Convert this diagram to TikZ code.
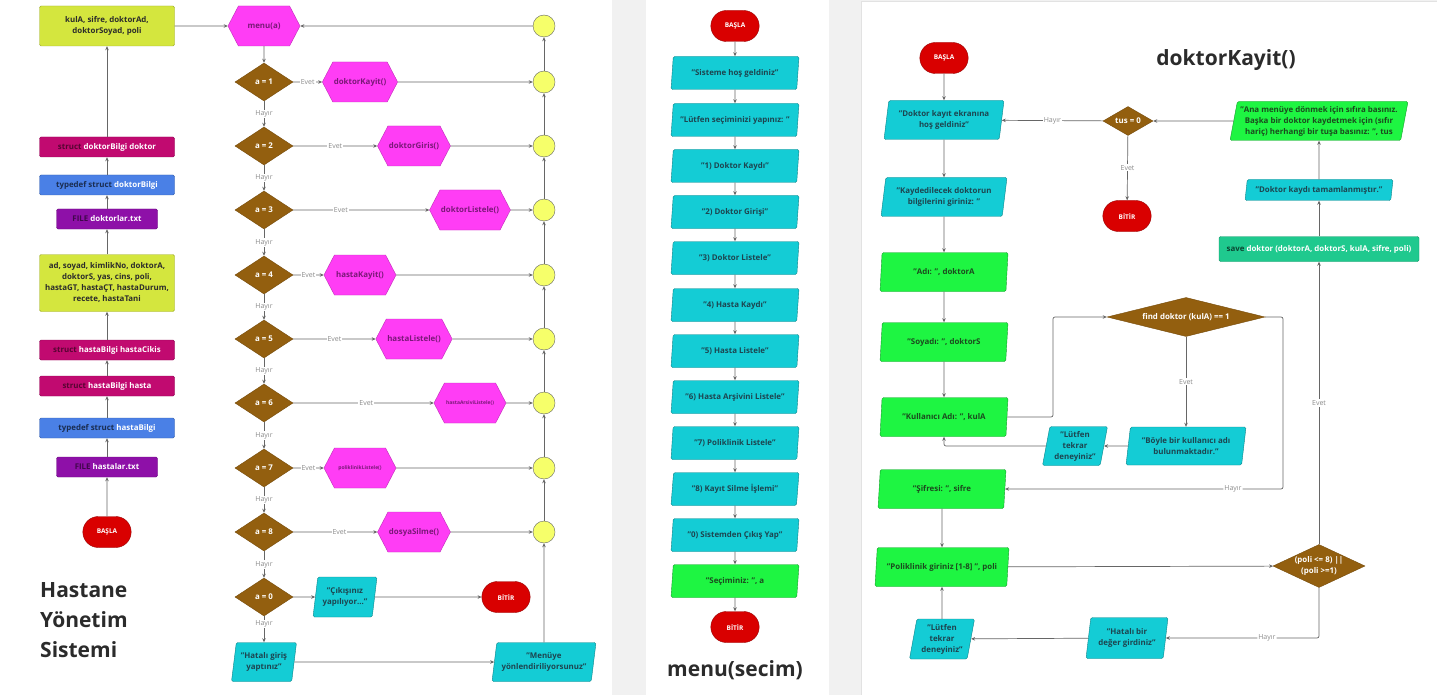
\documentclass[tikz,border=0pt]{standalone}
\usepackage{fontspec}
\setmainfont{Open Sans}
\usetikzlibrary{shapes.geometric,shapes.misc,shapes.symbols,arrows.meta}
\definecolor{panelgray}{HTML}{F1F1F1}
\definecolor{panelline}{HTML}{E2E2E2}
\definecolor{linegray}{HTML}{666666}
\definecolor{lblgray}{HTML}{8C8C8C}
\definecolor{headgray}{HTML}{2B2B2B}
\definecolor{limebox}{HTML}{D4E63E}
\definecolor{structmag}{HTML}{C10A70}
\definecolor{typeblue}{HTML}{4A80E6}
\definecolor{filepurple}{HTML}{8E10A8}
\definecolor{termred}{HTML}{D90000}
\definecolor{funcpink}{HTML}{FF3DF5}
\definecolor{functext}{HTML}{7A1878}
\definecolor{decbrown}{HTML}{935F0F}
\definecolor{jointyellow}{HTML}{F6FF6A}
\definecolor{iocyan}{HTML}{14CCD5}
\definecolor{iotext}{HTML}{1D4550}
\definecolor{iogreen}{HTML}{1EF542}
\definecolor{greentext}{HTML}{1B4A1E}
\definecolor{savegreen}{HTML}{1FC98E}
\newcommand\nodefont{\bfseries\fontsize{7.9}{11}\selectfont}
\newcommand\tinyfont{\bfseries\fontsize{5}{6}\selectfont}

\begin{document}
\begin{tikzpicture}[x=1pt,y=-1pt,
    >={Stealth[length=4pt,width=3.5pt]},
    line/.style={draw=linegray,line width=0.7pt},
    lbl/.style={fill=white,text=lblgray,font=\fontsize{7}{8}\selectfont,inner sep=1pt},
    databox/.style={rectangle,rounded corners=1.5pt,draw=#1!75!black,fill=#1,minimum width=135,minimum height=20,inner sep=1pt,align=center,font=\nodefont},
    io/.style={trapezium,trapezium left angle=77,trapezium right angle=103,trapezium stretches body,rounded corners=1.5pt,fill=iocyan,draw=iocyan!65!black,text=iotext,align=center,font=\nodefont,inner sep=1pt},
    ioin/.style={io,fill=iogreen,draw=iogreen!65!black,text=greentext},
    dec/.style={diamond,aspect=1.5,fill=decbrown,draw=decbrown!80!black,text=white,align=center,font=\nodefont,inner sep=0pt,minimum width=58,minimum height=38},
    func/.style={signal,signal to=east and west,signal pointer angle=125,fill=funcpink,draw=funcpink!75!black,text=functext,font=\nodefont,minimum width=72,minimum height=40,inner sep=1pt},
    term/.style={rounded rectangle,fill=termred,draw=termred!70!black,text=white,font=\bfseries\fontsize{6.5}{8}\selectfont,minimum width=55,minimum height=31},
    joint/.style={circle,fill=jointyellow,draw=linegray,minimum size=22,inner sep=0pt},
    heading/.style={font=\bfseries\fontsize{21}{30}\selectfont,text=headgray,inner sep=0pt}]
  \useasboundingbox (0,0) rectangle (1437,695);
  \fill [panelgray] (0,0) rectangle (1437,695);
  \fill [white] (0,0) rectangle (612,695);
  \fill [white] (646,0) rectangle (829,695);
  \filldraw [fill=white,draw=panelline] (861,1) rectangle (1437,695);

  % structs and files
  \node (vars) at (107,26) [databox=limebox,text=headgray,minimum height=40] {kulA, sifre, doktorAd,\\ doktorSoyad, poli};
  \node (drec) at (107,147) [databox=structmag,text=structmag!45!black] {struct \textcolor{white}{doktorBilgi doktor}};
  \node (dtype) at (107,185) [databox=typeblue,text=typeblue!35!black] {typedef struct \textcolor{white}{doktorBilgi}};
  \node (dfile) at (107,219) [databox=filepurple,text=filepurple!45!black,minimum width=101] {FILE \textcolor{white}{doktorlar.txt}};
  \node (hfields) at (107,283) [databox=limebox,text=headgray,minimum height=57] {ad, soyad, kimlikNo, doktorA,\\ doktorS, yas, cins, poli,\\ hastaGT, hastaÇT, hastaDurum,\\ recete, hastaTani};
  \node (hcikis) at (107,350) [databox=structmag,text=structmag!45!black] {struct \textcolor{white}{hastaBilgi hastaCikis}};
  \node (hrec) at (107,386) [databox=structmag,text=structmag!45!black] {struct \textcolor{white}{hastaBilgi hasta}};
  \node (htype) at (107,428) [databox=typeblue,text=typeblue!35!black] {typedef struct \textcolor{white}{hastaBilgi}};
  \node (hfile) at (107,467) [databox=filepurple,text=filepurple!45!black,minimum width=101] {FILE \textcolor{white}{hastalar.txt}};
  \node (start) at (107,532) [term] {BAŞLA};
  \node (title) at (40,582) [heading,anchor=north west,align=left] {Hastane\\Yönetim\\Sistemi};
  \draw [line,->] (start) -- (hfile);
  \draw [line,->] (hfile) -- (htype);
  \draw [line,->] (htype) -- (hrec);
  \draw [line,->] (hrec) -- (hcikis);
  \draw [line,->] (hcikis) -- (hfields);
  \draw [line,->] (hfields) -- (dfile);
  \draw [line,->] (dfile) -- (dtype);
  \draw [line,->] (dtype) -- (drec);
  \draw [line,->] (drec) -- (vars);

  % main menu loop
  \node (menu) at (264,26) [func] {menu(a)};
  \node (d1) at (264,82) [dec] {a = 1};
  \node (d2) at (264,146) [dec] {a = 2};
  \node (d3) at (264,210) [dec] {a = 3};
  \node (d4) at (264,275) [dec] {a = 4};
  \node (d5) at (264,339) [dec] {a = 5};
  \node (d6) at (264,403) [dec] {a = 6};
  \node (d7) at (264,468) [dec] {a = 7};
  \node (d8) at (264,532) [dec] {a = 8};
  \node (d0) at (264,597) [dec] {a = 0};
  \node (f1) at (360,82) [func] {doktorKayit()};
  \node (f2) at (414,146) [func] {doktorGiris()};
  \node (f3) at (470,210) [func] {doktorListele()};
  \node (f4) at (360,275) [func] {hastaKayit()};
  \node (f5) at (414,339) [func] {hastaListele()};
  \node (f6) at (470,403) [func,font=\tinyfont] {hastaArsiviListele()};
  \node (f7) at (360,468) [func,font=\tinyfont] {poliklinikListele()};
  \node (f8) at (414,532) [func] {dosyaSilme()};
  \node (bye) at (345,597) [io,minimum width=64,minimum height=40] {"Çıkışınız\\ yapılıyor..."};
  \node (end) at (506,597) [term] {BİTİR};
  \node (wrong) at (264,662) [io,minimum width=65,minimum height=39] {"Hatalı giriş\\ yaptınız"};
  \node (back) at (544,662) [io,minimum width=104,minimum height=39] {"Menüye\\ yönlendiriliyorsunuz"};
  \node (j0) at (544,26) [joint] {};
  \node (j1) at (544,82) [joint] {};
  \node (j2) at (544,146) [joint] {};
  \node (j3) at (544,210) [joint] {};
  \node (j4) at (544,275) [joint] {};
  \node (j5) at (544,339) [joint] {};
  \node (j6) at (544,403) [joint] {};
  \node (j7) at (544,468) [joint] {};
  \node (j8) at (544,532) [joint] {};
  \draw [line,->] (vars) -- (menu);
  \draw [line,->] (menu) -- (d1);
  \draw [line,->] (d1) to node [lbl] {Hayır} (d2);
  \draw [line,->] (d2) to node [lbl] {Hayır} (d3);
  \draw [line,->] (d3) to node [lbl] {Hayır} (d4);
  \draw [line,->] (d4) to node [lbl] {Hayır} (d5);
  \draw [line,->] (d5) to node [lbl] {Hayır} (d6);
  \draw [line,->] (d6) to node [lbl] {Hayır} (d7);
  \draw [line,->] (d7) to node [lbl] {Hayır} (d8);
  \draw [line,->] (d8) to node [lbl] {Hayır} (d0);
  \draw [line,->] (d0) to node [lbl,pos=0.3] {Hayır} (wrong);
  \draw [line,->] (d1) to node [lbl] {Evet} (f1);
  \draw [line,->] (d2) to node [lbl] {Evet} (f2);
  \draw [line,->] (d3) to node [lbl,pos=0.35] {Evet} (f3);
  \draw [line,->] (d4) to node [lbl] {Evet} (f4);
  \draw [line,->] (d5) to node [lbl] {Evet} (f5);
  \draw [line,->] (d6) to node [lbl,pos=0.52] {Evet} (f6);
  \draw [line,->] (d7) to node [lbl] {Evet} (f7);
  \draw [line,->] (d8) to node [lbl,pos=0.55] {Evet} (f8);
  \draw [line,->] (d0) -- (bye);
  \draw [line,->] (bye) -- (end);
  \draw [line,->] (wrong) -- (back);
  \draw [line,->] (f1) -- (j1);
  \draw [line,->] (f2) -- (j2);
  \draw [line,->] (f3) -- (j3);
  \draw [line,->] (f4) -- (j4);
  \draw [line,->] (f5) -- (j5);
  \draw [line,->] (f6) -- (j6);
  \draw [line,->] (f7) -- (j7);
  \draw [line,->] (f8) -- (j8);
  \draw [line,->] (back) -- (j8);
  \draw [line,->] (j8) -- (j7);
  \draw [line,->] (j7) -- (j6);
  \draw [line,->] (j6) -- (j5);
  \draw [line,->] (j5) -- (j4);
  \draw [line,->] (j4) -- (j3);
  \draw [line,->] (j3) -- (j2);
  \draw [line,->] (j2) -- (j1);
  \draw [line,->] (j1) -- (j0);
  \draw [line,->] (j0) -- (menu);

  % menu(secim)
  \node (mstart) at (735,26) [term] {BAŞLA};
  \node (m1) at (735,73) [io,minimum width=128,minimum height=33] {"Sisteme hoş geldiniz"};
  \node (m2) at (735,120) [io,minimum width=128,minimum height=33] {"Lütfen seçiminizi yapınız: "};
  \node (m3) at (735,166) [io,minimum width=128,minimum height=33] {"1) Doktor Kaydı"};
  \node (m4) at (735,212) [io,minimum width=128,minimum height=33] {"2) Doktor Girişi"};
  \node (m5) at (735,258) [io,minimum width=128,minimum height=33] {"3) Doktor Listele"};
  \node (m6) at (735,305) [io,minimum width=128,minimum height=33] {"4) Hasta Kaydı"};
  \node (m7) at (735,351) [io,minimum width=128,minimum height=33] {"5) Hasta Listele"};
  \node (m8) at (735,397) [io,minimum width=128,minimum height=33] {"6) Hasta Arşivini Listele"};
  \node (m9) at (735,443) [io,minimum width=128,minimum height=33] {"7) Poliklinik Listele"};
  \node (m10) at (735,489) [io,minimum width=128,minimum height=33] {"8) Kayıt Silme İşlemi"};
  \node (m11) at (735,535) [io,minimum width=128,minimum height=33] {"0) Sistemden Çıkış Yap"};
  \node (m12) at (735,581) [ioin,minimum width=128,minimum height=33] {"Seçiminiz: ", a};
  \node (mend) at (735,627) [term] {BİTİR};
  \node (mtitle) at (735,670) [heading] {menu(secim)};
  \draw [line,->] (mstart) -- (m1);
  \draw [line,->] (m1) -- (m2);
  \draw [line,->] (m2) -- (m3);
  \draw [line,->] (m3) -- (m4);
  \draw [line,->] (m4) -- (m5);
  \draw [line,->] (m5) -- (m6);
  \draw [line,->] (m6) -- (m7);
  \draw [line,->] (m7) -- (m8);
  \draw [line,->] (m8) -- (m9);
  \draw [line,->] (m9) -- (m10);
  \draw [line,->] (m10) -- (m11);
  \draw [line,->] (m11) -- (m12);
  \draw [line,->] (m12) -- (mend);

  % doktorKayit()
  \node (ktitle) at (1226,60) [heading] {doktorKayit()};
  \node (kstart) at (944,58) [term] {BAŞLA};
  \node (k1) at (944,120) [io,minimum width=120,minimum height=39] {"Doktor kayıt ekranına\\ hoş geldiniz"};
  \node (k2) at (944,197) [io,minimum width=126,minimum height=39] {"Kaydedilecek doktorun\\ bilgilerini giriniz: "};
  \node (k3) at (944,272) [ioin,minimum width=128,minimum height=39] {"Adı: ", doktorA};
  \node (k4) at (944,342) [ioin,minimum width=128,minimum height=39] {"Soyadı: ", doktorS};
  \node (k5) at (944,417) [ioin,minimum width=128,minimum height=39] {"Kullanıcı Adı: ", kulA};
  \node (k6) at (942,489) [ioin,minimum width=128,minimum height=39] {"Şifresi: ", sifre};
  \node (k7) at (942,567) [ioin,minimum width=134,minimum height=39] {"Poliklinik giriniz [1-8] ", poli};
  \node (kfind) at (1186,317) [dec,aspect=4,minimum width=158,minimum height=39] {find doktor (kulA) == 1};
  \node (kexists) at (1186,446) [io,minimum width=120,minimum height=38] {"Böyle bir kullanıcı adı\\ bulunmaktadır."};
  \node (kretry1) at (1075,446) [io,minimum width=65,minimum height=39] {"Lütfen\\ tekrar\\ deneyiniz"};
  \node (kpoli) at (1319,566) [dec,aspect=2.1,minimum width=92,minimum height=43] {(poli <= 8) ||\\ (poli >=1)};
  \node (kbad) at (1127,638) [io,minimum width=82,minimum height=41] {"Hatalı bir\\ değer girdiniz"};
  \node (kretry2) at (942,639) [io,minimum width=65,minimum height=40] {"Lütfen\\ tekrar\\ deneyiniz"};
  \node (ksave) at (1319,249) [databox=savegreen,text=savegreen!35!black,minimum width=200,minimum height=25] {save \textcolor{white}{doktor (doktorA, doktorS, kulA, sifre, poli)}};
  \node (kdone) at (1319,190) [io,minimum width=148,minimum height=21] {"Doktor kaydı tamamlanmıştır."};
  \node (kask) at (1319,121) [ioin,minimum width=178,minimum height=39] {"Ana menüye dönmek için sıfıra basınız.\\ Başka bir doktor kaydetmek için (sıfır\\ hariç) herhangi bir tuşa basınız: ", tus};
  \node (ktus) at (1128,121) [dec,minimum width=50,minimum height=29] {tus = 0};
  \node (kend) at (1127,216) [term] {BİTİR};
  \coordinate (kbend) at (1053,417);
  \coordinate (kfindr) at (1283,317);
  \draw [line,->] (kstart) -- (k1);
  \draw [line,->] (k1) -- (k2);
  \draw [line,->] (k2) -- (k3);
  \draw [line,->] (k3) -- (k4);
  \draw [line,->] (k4) -- (k5);
  \draw [line,->,rounded corners=2pt] (k5) -- (kbend) |- (kfind);
  \draw [line,->] (kfind) to node [lbl] {Evet} (kexists);
  \draw [line,->] (kexists) -- (kretry1);
  \draw [line,->,rounded corners=2pt] (kretry1) -| (k5);
  \draw [line,->,rounded corners=2pt] (kfind) -- (kfindr) |- (k6) node [lbl,pos=0.59] {Hayır};
  \draw [line,->] (k6) -- (k7);
  \draw [line,->] (k7) -- (kpoli);
  \draw [line,->,rounded corners=2pt] (kpoli) |- (kbad) node [lbl,pos=0.67] {Hayır};
  \draw [line,->] (kbad) -- (kretry2);
  \draw [line,->] (kretry2) -- (k7);
  \draw [line,->] (kpoli) to node [lbl] {Evet} (ksave);
  \draw [line,->] (ksave) -- (kdone);
  \draw [line,->] (kdone) -- (kask);
  \draw [line,->] (kask) -- (ktus);
  \draw [line,->] (ktus) to node [lbl] {Hayır} (k1);
  \draw [line,->] (ktus) to node [lbl] {Evet} (kend);
\end{tikzpicture}
\end{document}
